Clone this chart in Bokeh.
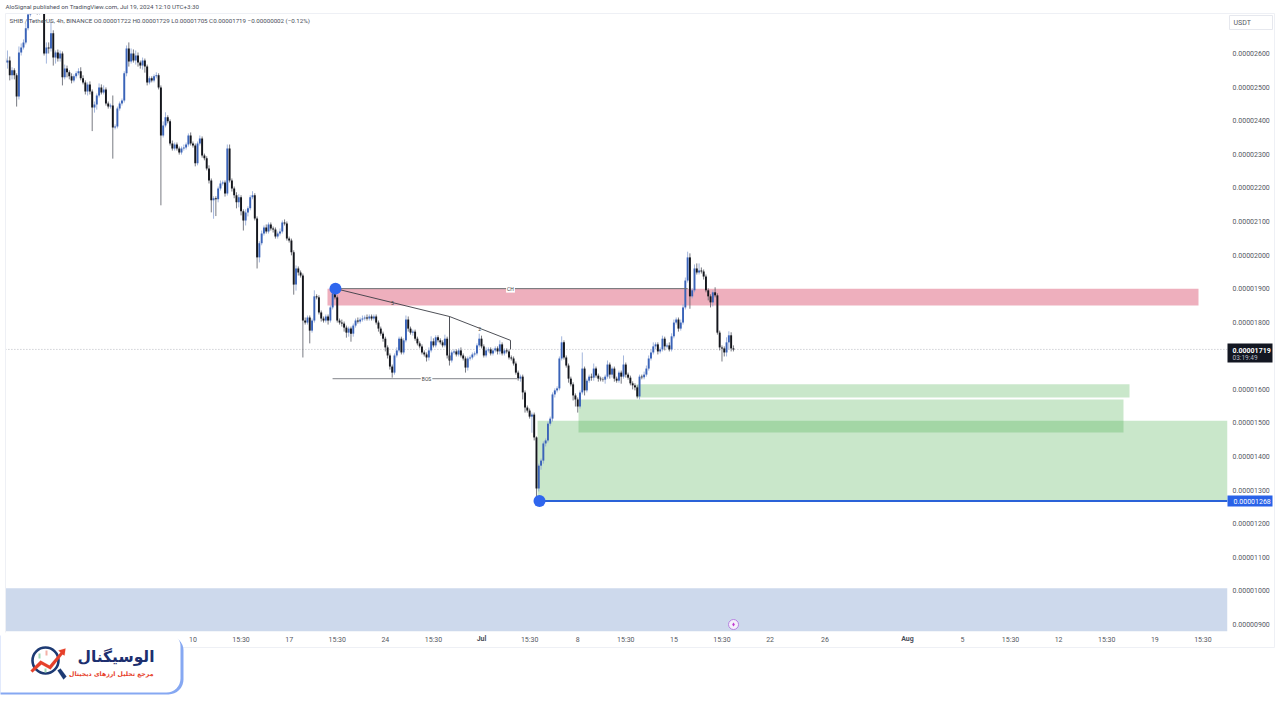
from bokeh.embed import file_html
from bokeh.resources import INLINE
from bokeh.plotting import figure
from bokeh.models import (BoxAnnotation, ColumnDataSource, FixedTicker, Label, LinearAxis,
                          PolyAnnotation, PrintfTickFormatter, Range1d)
import numpy as np

# ---- data (prices in units of 1e-8 USDT, 4h bars) ----
first_open = 2585
close = [
2573,2579,2535,2550,2535,2472,2603,2618,2633,2675,
2716,2743,2749,2734,2722,2740,2734,2600,2618,2615,
2660,2588,2603,2585,2600,2529,2555,2544,2532,2520,
2532,2541,2547,2526,2514,2487,2508,2487,2439,2448,
2475,2499,2484,2493,2451,2442,2445,2380,2383,2436,
2451,2460,2541,2615,2576,2600,2579,2594,2573,2564,
2579,2561,2514,2526,2520,2532,2535,2499,2356,2386,
2410,2398,2332,2317,2329,2317,2305,2317,2320,2329,
2356,2332,2326,2273,2332,2347,2296,2288,2258,2222,
2163,2169,2166,2198,2213,2216,2183,2317,2222,2198,
2178,2157,2172,2130,2103,2127,2139,2172,2178,2109,
1993,2035,2064,2082,2070,2091,2079,2076,2055,2064,
2070,2097,2094,2049,2043,2008,1912,1960,1948,1939,
1805,1799,1814,1775,1805,1877,1874,1829,1811,1805,
1817,1805,1844,1886,1874,1805,1799,1796,1784,1769,
1781,1766,1790,1805,1802,1808,1811,1814,1811,1817,
1811,1817,1799,1781,1766,1751,1725,1701,1668,1650,
1701,1716,1751,1710,1746,1808,1781,1769,1772,1751,
1737,1728,1710,1704,1695,1716,1743,1731,1755,1746,
1740,1731,1751,1701,1686,1710,1713,1704,1716,1701,
1692,1665,1692,1695,1704,1707,1731,1751,1728,1701,
1716,1719,1707,1716,1722,1713,1734,1707,1716,1713,1695,
1692,1677,1650,1632,1638,1591,1546,1537,1519,1525,
1457,1305,1373,1388,1439,1448,1498,1513,1585,1597,
1603,1692,1740,1695,1671,1632,1615,1582,1570,1549,
1591,1662,1597,1626,1638,1635,1662,1641,1632,1630,
1629,1638,1674,1644,1662,1632,1626,1650,1638,1674,
1644,1635,1618,1612,1606,1579,1638,1636,1644,1662,
1692,1710,1728,1734,1713,1719,1751,1728,1731,1719,
1758,1799,1808,1781,1799,1844,1924,1993,1877,1895,
1960,1948,1954,1951,1936,1895,1877,1859,1889,1880,
1769,1725,1722,1710,1740,1761,1722,1719,
]
upper_wick = [
50,30,12,9,6,6,18,12,9,15,
15,12,9,9,6,12,9,12,15,15,
36,9,6,9,9,6,12,9,6,9,
6,6,9,12,9,6,6,9,6,9,
6,12,9,12,6,6,6,30,6,6,
6,6,6,9,18,15,12,15,9,6,
9,6,6,6,6,6,9,6,6,12,
15,6,6,9,6,6,6,6,9,6,
6,9,6,6,6,9,6,6,6,9,
6,6,6,6,9,6,6,12,12,6,
6,9,9,6,6,9,6,6,12,6,
6,6,9,6,9,6,6,6,6,6,
9,6,9,6,6,6,6,9,6,6,
6,9,6,6,6,18,6,6,6,6,
6,6,6,24,9,6,6,9,6,6,
6,6,6,6,9,6,9,6,9,6,
6,6,6,6,6,6,6,6,6,6,
6,9,6,6,6,12,9,6,6,6,
6,6,6,6,6,9,15,9,6,6,
6,6,12,6,6,6,6,6,6,9,
6,6,6,6,6,6,6,15,9,6,
9,6,6,6,6,6,12,6,6,6,6,
6,6,6,6,6,6,6,6,6,6,
6,3,6,6,6,6,6,6,6,6,
6,6,18,6,6,6,6,6,6,6,
6,48,6,6,6,9,15,6,6,6,
6,6,12,6,6,6,6,6,6,27,
6,6,6,6,6,6,6,6,9,9,
9,9,12,6,6,6,9,6,6,9,
9,9,6,6,9,9,9,17,12,6,
12,15,21,9,6,6,6,6,6,15,
6,6,6,6,15,12,9,9,
]
lower_wick = [
105,18,15,12,12,30,9,9,6,6,
6,6,6,6,6,6,6,6,30,15,
9,24,18,9,9,24,6,15,9,9,
6,6,6,6,6,9,12,9,70,15,
15,6,6,6,6,6,6,93,6,6,
6,6,6,9,15,6,6,12,12,9,
12,18,9,6,6,6,6,6,208,6,
6,6,6,6,6,6,6,6,6,6,
6,6,6,9,6,6,6,6,6,9,
36,55,50,9,6,6,9,6,6,9,
9,18,15,12,30,15,12,6,6,6,
33,15,6,6,6,6,6,9,6,6,
6,6,6,6,6,9,30,18,9,6,
110,6,6,38,6,6,6,6,9,6,
6,12,6,6,6,6,6,9,12,15,
12,24,9,6,6,6,6,6,6,6,
6,6,6,9,6,9,12,9,9,15,
6,6,6,6,6,6,9,6,9,6,
6,6,6,6,12,9,6,6,6,6,
6,6,6,9,15,6,6,6,6,6,
6,15,9,6,6,6,6,6,6,6,
6,6,6,6,6,9,9,6,6,6,6,
6,6,6,6,9,21,15,6,6,48,
9,37,9,12,9,9,6,6,9,9,
6,6,6,6,6,12,6,15,21,18,
6,6,15,6,6,9,9,6,9,6,
6,12,6,12,9,9,6,6,21,6,
9,6,6,12,9,6,9,6,6,6,
6,6,6,9,9,6,6,12,6,6,
6,6,6,9,6,6,6,6,37,6,
6,6,6,6,9,6,12,15,12,6,
6,9,39,12,12,21,9,6,
]
bars_before_jul1 = 208
bars_per_day = 6

price_ticks = [900,1000,1100,1200,1300,1400,1500,1600,1700,1800,1900,2000,2100,2200,2300,2400,2500,2600]
date_ticks = [-21,-17.5,-14,-10.5,-7,-3.5,3.5,7,10.5,14,17.5,21,25,35,38.5,42,45.5,49,52.5]
date_labels = ["10","15:30","17","15:30","24","15:30","15:30","8","15:30","15","15:30","22","26","5","15:30","12","15:30","19","15:30"]
month_days = [0, 31]
month_labels = ["Jul", "Aug"]

last_price = 1719
low_price = 1268
red_zone = dict(left=-11.21, right=52.18, bottom=1850, top=1900)
green_zones = dict(left=[4.08, 7.06, 11.28], right=[54.29, 46.72, 47.16],
                   bottom=[1268, 1472, 1576], top=[1507, 1570, 1615])
band = dict(left=-34.65, right=54.29, bottom=879, top=1008)
ch_line = dict(x=[-10.63, 15.0], y=[1900, 1900])
bos_line = dict(x=[-10.84, 2.69], y=[1632, 1632])
diag_x = [-10.63, -2.33, 2.11]
diag_y = [1900, 1817, 1746]
vert_x = [-2.33, 2.11]
vert_top = [1817, 1746]
vert_bot = [1686, 1719]
marker_x = [-10.63, 4.22]
marker_y = [1900, 1268]

S = 1e-8
n = len(close)
opens = [first_open] + close[:-1]
xs = (np.arange(n) - bars_before_jul1) / bars_per_day
op = np.array(opens) * S
cl = np.array(close) * S
hi = np.maximum(op, cl) + np.array(upper_wick) * S
lo = np.minimum(op, cl) - np.array(lower_wick) * S
up = cl >= op

UP = "#3a63b8"
DOWN = "#14161c"

W, H = 1280, 720
FL, FR, FT, FB = 5, 1227, 13, 631
X0, X1 = -34.643, 54.29

p = figure(width=W, height=H, output_backend="svg", toolbar_location=None,
           x_range=Range1d(X0, X1), y_range=Range1d(879.2 * S, 2719.1 * S),
           x_axis_location=None, y_axis_location=None,
           min_border_left=FL, min_border_right=W - FR, min_border_top=FT, min_border_bottom=H - FB)
p.grid.visible = False
p.outline_line_color = None
p.background_fill_color = "white"
p.border_fill_color = "white"

# axes
xax = LinearAxis(ticker=FixedTicker(ticks=date_ticks),
                 major_label_overrides={float(t) if t % 1 else int(t): s for t, s in zip(date_ticks, date_labels)})
xax.axis_line_color = None
xax.major_tick_line_color = None
xax.minor_tick_line_color = None
xax.major_tick_out = 0
xax.major_tick_in = 0
xax.minor_tick_out = 0
xax.major_label_text_font = "Roboto"
xax.major_label_text_font_size = "7px"
xax.major_label_text_color = "#555862"
xax.major_label_standoff = 4
p.add_layout(xax, "below")

yax = LinearAxis(ticker=FixedTicker(ticks=[t * S for t in price_ticks]),
                 formatter=PrintfTickFormatter(format="%.8f"))
yax.axis_line_color = None
yax.major_tick_line_color = None
yax.minor_tick_line_color = None
yax.major_tick_out = 0
yax.major_tick_in = 0
yax.minor_tick_out = 0
yax.major_label_text_font = "Roboto"
yax.major_label_text_font_size = "7px"
yax.major_label_text_color = "#555862"
yax.major_label_standoff = 5
p.add_layout(yax, "right")

# zones
p.quad(left=band["left"], right=band["right"], bottom=band["bottom"] * S, top=band["top"] * S,
       fill_color="#cdd9ec", line_color=None)
p.quad(left=green_zones["left"], right=green_zones["right"],
       bottom=[v * S for v in green_zones["bottom"]], top=[v * S for v in green_zones["top"]],
       fill_color="#4caf50", fill_alpha=0.3, line_color=None)
p.quad(left=red_zone["left"], right=red_zone["right"], bottom=red_zone["bottom"] * S, top=red_zone["top"] * S,
       fill_color="#eeafbd", line_color=None)

# last price
p.line(x=[-34.65, 54.29], y=[last_price * S] * 2, line_color="#b9bbc2", line_dash="1 2", line_width=1)

# candles
src_up = ColumnDataSource(dict(x=xs[up], o=op[up], c=cl[up], h=hi[up], l=lo[up]))
src_dn = ColumnDataSource(dict(x=xs[~up], o=op[~up], c=cl[~up], h=hi[~up], l=lo[~up]))
p.segment(x0="x", x1="x", y0="l", y1="h", source=src_up, line_color="#8ba3d4", line_width=0.8)
p.segment(x0="x", x1="x", y0="l", y1="h", source=src_dn, line_color="#555862", line_width=0.8)
p.vbar(x="x", width=0.14, bottom="o", top="c", source=src_up, fill_color=UP, line_color=None)
p.vbar(x="x", width=0.14, bottom="c", top="o", source=src_dn, fill_color=DOWN, line_color=None)

# drawings
p.line(x=ch_line["x"], y=[v * S for v in ch_line["y"]], line_color="#6b6d72", line_width=1)
p.line(x=bos_line["x"], y=[v * S for v in bos_line["y"]], line_color="#9a9ca1", line_width=1.4)
p.line(x=diag_x, y=[v * S for v in diag_y], line_color="#3a3c44", line_width=0.9)
p.segment(x0=vert_x, x1=vert_x, y0=[v * S for v in vert_top], y1=[v * S for v in vert_bot],
          line_color="#3a3c44", line_width=0.9)
p.segment(x0=[marker_x[1]], x1=[54.29], y0=[low_price * S], y1=[low_price * S], line_color="#2a62d8", line_width=2)
p.scatter(x=marker_x, y=[v * S for v in marker_y], size=12, fill_color="#2f66ee", line_color=None)
p.scatter(x=[18.34], y=[900 * S], size=10, fill_color="#f4f0fb", line_color="#b682e0", line_width=1)
p.scatter(x=[18.34], y=[900 * S], size=4, marker="diamond", fill_color="#c03ad0", line_color=None)

# texts on drawings
def data_label(day, price, text, size=5, color="#444", bg=None):
    p.add_layout(Label(x=day, y=price * S, text=text, text_font="Roboto", text_font_size=f"{size}px",
                       text_color=color, text_align="center", text_baseline="middle",
                       background_fill_color=bg, padding=1))
data_label(2.11, 1900, "CH", bg="white")
data_label(-4.0, 1632, "BOS", bg="white")
data_label(-6.48, 1858, "5")
data_label(-0.14, 1781, "2")

# ---- page overlay: header, price tags and the logo panel, over the whole canvas ----
q = figure(width=W, height=H, output_backend="svg", toolbar_location=None,
           x_range=Range1d(0, W), y_range=Range1d(0, H), x_axis_location=None, y_axis_location=None,
           min_border_left=0, min_border_right=0, min_border_top=0, min_border_bottom=0,
           styles={"position": "absolute", "left": "0px", "top": "0px"})
q.grid.visible = False
q.outline_line_color = None
q.background_fill_alpha = 0
q.border_fill_alpha = 0

def sx(px): return px
def sy(py): return H - py

def scr_label(px, py, text, size, color, align="left", font="Roboto", style="normal"):
    q.add_layout(Label(x=sx(px), y=sy(py), x_units="screen", y_units="screen", text=text, text_font=font,
                       text_font_size=f"{size}px", text_color=color, text_align=align, text_baseline="middle",
                       text_font_style=style))

def scr_box(l, r, t, b, fill, line=None, lw=1, radius=0, alpha=1.0):
    q.add_layout(BoxAnnotation(left=sx(l), right=sx(r), top=sy(t), bottom=sy(b),
                               left_units="screen", right_units="screen", top_units="screen", bottom_units="screen",
                               fill_color=fill, fill_alpha=alpha, line_color=line, line_width=lw, line_alpha=1.0,
                               border_radius=radius, editable=False))

def scr_poly(pts, fill):
    q.add_layout(PolyAnnotation(xs=[sx(a) for a, _ in pts], ys=[sy(b) for _, b in pts],
                                xs_units="screen", ys_units="screen", fill_color=fill, fill_alpha=1.0,
                                line_color=fill, line_width=0.5, editable=False))

# outer chart border
scr_box(5, 1274, 13, 647, None, line="#eef0f5", alpha=0)

# month labels in bold
px_per_day = (FR - FL) / (X1 - X0)
for d, s in zip(month_days, month_labels):
    scr_label(FL + (d - X0) * px_per_day, 638.5, s, 7, "#4a4e59", align="center", style="bold")

# header
scr_label(5, 6.5, "AloSignal published on TradingView.com, Jul 19, 2024 12:10 UTC+3:30", 6.2, "#4a4e59")
scr_label(9, 20.5, "SHIB / TetherUS, 4h, BINANCE   O0.00001722  H0.00001729  L0.00001705  C0.00001719  \u22120.00000002 (\u22120.12%)",
          6.2, "#4a4e59")

# right-hand tags
scr_box(1229, 1272, 15, 29, "white", line="#e6e8ee")
scr_label(1233, 22, "USDT", 7, "#555862")
scr_box(1227, 1272, 343, 362, "#131722")
scr_label(1232, 349.5, "0.00001719", 7, "#ffffff", style="bold")
scr_label(1232, 357, "03:19:49", 6.5, "#b7bac2")
scr_box(1227, 1272, 495, 506, "#2962e8")
scr_label(1233, 500.5, "0.00001268", 7, "#ffffff")

# logo panel
scr_box(-20, 183, 635, 694, "#86a8f2", radius=15)
scr_box(-20, 180, 632, 692, "white", radius=14)
scr_box(32, 58, 647, 673, None, line="#1d3a73", lw=2.6, radius=13, alpha=0)
scr_poly([(57, 670), (60, 668), (66, 676), (63, 679)], "#1d3a73")
scr_poly([(30, 670), (40, 660), (49, 665), (60, 652), (58, 650), (65, 648), (64, 655), (62, 654),
          (50, 669), (41, 664), (32, 672)], "#e6402a")
scr_box(38, 40, 653, 658, "#9fd8b5")
scr_box(45, 47, 650, 655, "#f3b0a6")
scr_box(44, 46, 668, 672, "#9fd8b5")
scr_label(154, 656, "\u0627\u0644\u0648\u0633\u06cc\u06af\u0646\u0627\u0644", 15.5, "#1d2f6f", align="right",
          font="DejaVu Sans", style="bold")
scr_label(153, 673, "\u0645\u0631\u062c\u0639 \u062a\u062d\u0644\u06cc\u0644 \u0627\u0631\u0632\u0647\u0627\u06cc \u062f\u06cc\u062c\u06cc\u062a\u0627\u0644",
          6.2, "#e6402a", align="right", font="DejaVu Sans", style="bold")

html = file_html((p, q), INLINE)
html = html.replace("</head>", "<style>html,body{margin:0;padding:0;overflow:hidden}</style></head>", 1)
open("out.html", "w").write(html)
